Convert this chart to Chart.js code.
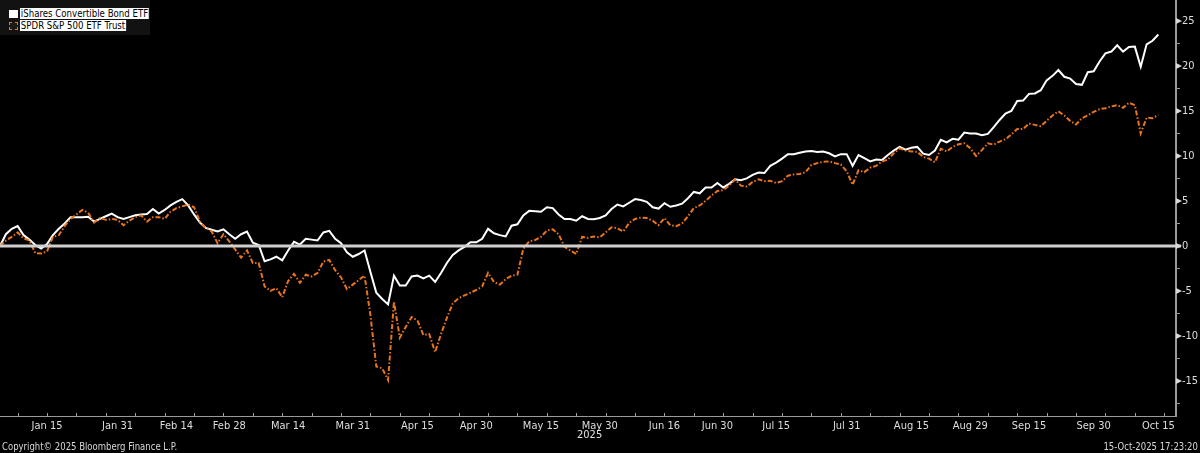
<!DOCTYPE html>
<html>
<head>
<meta charset="utf-8">
<script src="https://cdn.jsdelivr.net/npm/chart.js@4.4.1/dist/chart.umd.min.js"></script>
<style>
  html, body { margin: 0; padding: 0; background: #000; }
  #wrap {
    position: relative; width: 1200px; height: 453px; overflow: hidden; background: #000;
    font-family: "Liberation Sans Narrow", "DejaVu Sans Condensed", sans-serif;
  }
  #chart { position: absolute; left: 0; top: 0; }
  #legend {
    position: absolute; left: 0; top: 0; width: 150px; height: 35px; background: #121212;
  }
  .row { position: absolute; left: 9px; height: 11px; }
  .mark { position: absolute; left: 0; top: 1px; width: 9px; height: 8px; box-sizing: border-box; }
  .txt {
    position: absolute; left: 11px; top: -1px; height: 11px; line-height: 11px; padding: 0 1px;
    background: #fff; color: #000; font-size: 11px; white-space: nowrap;
    transform: scaleX(0.87); transform-origin: left center;
  }
  .foot {
    position: absolute; top: 440px; font-size: 11px; color: #d8d8d8; white-space: nowrap;
    transform: scaleX(0.86);
  }
  #year { position: absolute; left: 577px; top: 428px; font-size: 11px; color: #e0e0e0; }
</style>
</head>
<body>
<div id="wrap">
  <canvas id="chart" width="1200" height="453"></canvas>
  <div id="legend">
    <div class="row" style="top:9px"><div class="mark" style="background:#fff"></div><span class="txt">iShares Convertible Bond ETF</span></div>
    <div class="row" style="top:21px"><div class="mark" style="border:1.5px dashed #e8741e;background:#1a1a1a"></div><span class="txt">SPDR S&amp;P 500 ETF Trust</span></div>
  </div>
  <div id="year">2025</div>
  <div class="foot" style="left:2px;transform-origin:left center">Copyright© 2025 Bloomberg Finance L.P.</div>
  <div class="foot" style="right:2px;transform-origin:right center">15-Oct-2025 17:23:20</div>
</div>
<script>
'use strict';

// Total return (%) since Jan 2, 2025, one value per trading day (index 0 = Jan 2)
const convertible = [
  0, 1.3, 1.9, 2.2, 1.2, 0.7, 0.1, -0.3, 0.2, 1.2, 1.9, 2.5, 3.2, 3.2, 3.2, 3.25, 2.7, 3.0, 3.3, 3.6,
  3.2, 3.0, 3.2, 3.4, 3.5, 3.55, 4.1, 3.6, 4.0, 4.5, 4.9, 5.2, 4.5, 3.5, 2.6, 2.0, 1.8, 1.6, 1.85, 1.3,
  0.8, 1.3, 1.6, 0.35, 0.1, -1.7, -1.5, -1.2, -1.6, -0.5, 0.45, 0.15, 0.8, 0.7, 0.6, 1.5, 1.67, 0.8, 0.3, -0.7,
  -1.2, -0.9, -0.5, -2.9, -5.2, -5.9, -6.5, -3.3, -4.4, -4.4, -3.4, -3.3, -3.6, -3.3, -4.0, -3.0, -1.9, -1.0, -0.5, -0.1,
  0.4, 0.4, 0.8, 1.9, 1.4, 1.2, 1.05, 2.25, 2.4, 3.4, 3.9, 3.85, 3.8, 4.3, 4.2, 3.5, 3.0, 3.0, 2.8, 3.3,
  3.0, 2.96, 3.1, 3.4, 4.1, 4.6, 4.4, 4.8, 5.2, 5.1, 4.9, 4.3, 4.15, 4.75, 4.35, 4.5, 4.7, 5.3, 6.0, 5.85,
  6.5, 6.5, 7.0, 6.5, 6.9, 7.4, 7.3, 7.5, 7.9, 8.15, 8.1, 8.9, 9.25, 9.7, 10.2, 10.2, 10.35, 10.5, 10.55, 10.45,
  10.5, 10.3, 9.95, 10.2, 10.2, 8.9, 10.1, 9.75, 9.4, 9.6, 9.56, 10.1, 10.6, 11.0, 10.7, 10.9, 11.0, 10.25, 10.1, 10.6,
  11.8, 11.5, 11.9, 11.8, 12.6, 12.5, 12.5, 12.3, 12.45, 13.2, 14.0, 14.7, 15.0, 16.1, 16.15, 16.9, 16.95, 17.3, 18.4, 18.9,
  19.55, 18.8, 18.6, 18.0, 17.9, 19.3, 19.4, 20.5, 21.4, 21.6, 22.3, 21.6, 22.1, 22.15, 19.9, 22.4, 22.8, 23.5
];

const spy = [
  0, 0.6, 1.0, 1.5, 0.85, 0.6, -0.8, -0.85, -0.6, 1.0, 1.2, 2.2, 3.0, 3.5, 4.0, 3.7, 2.6, 3.1, 2.9, 3.0,
  2.9, 2.3, 2.8, 3.2, 3.4, 2.7, 3.2, 3.2, 3.0, 3.8, 4.2, 4.4, 4.6, 4.3, 2.7, 2.0, 1.6, 0.3, 1.3, 0.5,
  -0.4, -1.3, -0.5, -1.9, -1.9, -4.5, -5.0, -4.7, -5.7, -3.9, -3.1, -4.1, -3.2, -3.4, -3.0, -1.74, -1.56, -2.7, -3.5, -4.8,
  -4.3, -3.8, -3.3, -7.7, -13.4, -13.6, -14.9, -6.2, -10.2, -9.0, -7.9, -8.3, -9.9, -9.8, -11.8, -9.8, -8.0, -6.4, -5.8, -5.5,
  -5.2, -4.9, -4.5, -3.0, -4.0, -4.3, -3.7, -3.3, -3.2, -0.3, 0.5, 0.65, 1.0, 1.7, 1.85, 1.3, -0.1, -0.5, -0.9, 1.0,
  0.9, 1.05, 0.96, 1.5, 2.07, 1.96, 1.6, 2.55, 3.0, 3.15, 3.1, 2.8, 2.3, 3.1, 2.3, 2.2, 2.5, 3.3, 4.2, 4.5,
  5.0, 5.6, 6.1, 6.2, 6.7, 7.4, 6.7, 6.6, 7.1, 7.4, 7.2, 7.25, 7.0, 7.2, 7.8, 7.95, 8.0, 8.2, 9.0, 9.2,
  9.35, 9.4, 9.2, 9.05, 8.3, 6.8, 8.4, 8.2, 8.7, 8.9, 9.37, 9.6, 10.3, 10.85, 10.6, 10.5, 10.45, 9.9, 9.7, 9.3,
  10.8, 10.5, 11.0, 11.3, 11.4, 10.85, 10.0, 10.65, 11.4, 11.25, 11.6, 11.85, 12.4, 13.0, 13.0, 13.6, 13.45, 13.3, 13.9, 14.5,
  14.95, 14.5, 13.9, 13.5, 14.2, 14.5, 14.9, 15.2, 15.3, 15.5, 15.65, 15.35, 15.9, 15.65, 12.5, 14.25, 14.2, 14.55
];

// date labels and their trading-day index
const tickLabels = ['Jan 15', 'Jan 31', 'Feb 14', 'Feb 28', 'Mar 14', 'Mar 31', 'Apr 15', 'Apr 30', 'May 15', 'May 30',
  'Jun 16', 'Jun 30', 'Jul 15', 'Jul 31', 'Aug 15', 'Aug 29', 'Sep 15', 'Sep 30', 'Oct 15'];
const tickDays = [8, 20, 30, 39, 49, 60, 71, 81, 92, 102, 113, 122, 132, 144, 155, 165, 175, 186, 197];
const yTicks = [-17.5, -15, -12.5, -10, -7.5, -5, -2.5, 0, 2.5, 5, 7.5, 10, 12.5, 15, 17.5, 20, 22.5, 25];

const toPoints = arr => arr.map((v, i) => ({ x: i, y: v }));
const FONT = { family: '"Liberation Sans Narrow", "DejaVu Sans Condensed", sans-serif', size: 11 };

const overlay = {
  id: 'overlay',
  afterDatasetsDraw(chart) {
    const { ctx, chartArea: a, scales: { x, y } } = chart;
    ctx.save();
    // zero line over the series
    const y0 = y.getPixelForValue(0);
    ctx.strokeStyle = '#cfcfcf';
    ctx.lineWidth = 3;
    ctx.beginPath();
    ctx.moveTo(a.left, y0);
    ctx.lineTo(a.right + 5, y0);
    ctx.stroke();
    // weekly tick marks on the date axis
    ctx.strokeStyle = '#a0a0a0';
    ctx.lineWidth = 1;
    for (let d = 3; d < x.max; d += 5) {
      const px = Math.round(x.getPixelForValue(d)) + 0.5;
      ctx.beginPath();
      ctx.moveTo(px, a.bottom);
      ctx.lineTo(px, a.bottom - 3);
      ctx.stroke();
    }
    // little arrow heads on major value ticks
    ctx.fillStyle = '#d8d8d8';
    yTicks.filter(v => v % 5 === 0).forEach(v => {
      const py = y.getPixelForValue(v);
      ctx.beginPath();
      ctx.moveTo(a.right, py - 3);
      ctx.lineTo(a.right + 6, py);
      ctx.lineTo(a.right, py + 3);
      ctx.closePath();
      ctx.fill();
    });
    ctx.restore();
  }
};

new Chart(document.getElementById('chart'), {
  type: 'line',
  data: {
    datasets: [
      {
        label: 'iShares Convertible Bond ETF',
        data: toPoints(convertible),
        borderColor: '#ffffff',
        borderWidth: 2,
        pointRadius: 0,
        tension: 0,
        order: 2
      },
      {
        label: 'SPDR S&P 500 ETF Trust',
        data: toPoints(spy),
        borderColor: '#e8741e',
        borderWidth: 2,
        borderDash: [5, 2, 1.5, 2],
        pointRadius: 0,
        tension: 0,
        order: 1
      }
    ]
  },
  options: {
    responsive: false,
    animation: false,
    layout: { padding: 0 },
    plugins: { legend: { display: false }, tooltip: { enabled: false } },
    scales: {
      x: {
        type: 'linear',
        min: 0,
        max: 200,
        afterFit: s => { s.height = 37; s.paddingLeft = 0; s.paddingRight = 0; },
        afterBuildTicks: s => { s.ticks = tickDays.map(v => ({ value: v })); },
        ticks: {
          autoSkip: false,
          maxRotation: 0,
          padding: 4,
          color: '#dedede',
          font: FONT,
          callback: v => tickLabels[tickDays.indexOf(v)] || ''
        },
        grid: { drawOnChartArea: false, drawTicks: false },
        border: { display: true, color: '#9a9a9a', width: 1 }
      },
      y: {
        position: 'right',
        min: -18.9,
        max: 27.33,
        afterFit: s => { s.width = 24; s.paddingTop = 0; s.paddingBottom = 0; },
        afterBuildTicks: s => { s.ticks = yTicks.map(v => ({ value: v })); },
        ticks: {
          padding: 2,
          color: '#dedede',
          font: FONT,
          callback: v => (v % 5 === 0 ? String(v) : '')
        },
        grid: { drawOnChartArea: false, drawTicks: true, tickLength: 4, color: '#9a9a9a' },
        border: { display: true, color: '#9a9a9a', width: 2 }
      }
    }
  },
  plugins: [overlay]
});
</script>
</body>
</html>
